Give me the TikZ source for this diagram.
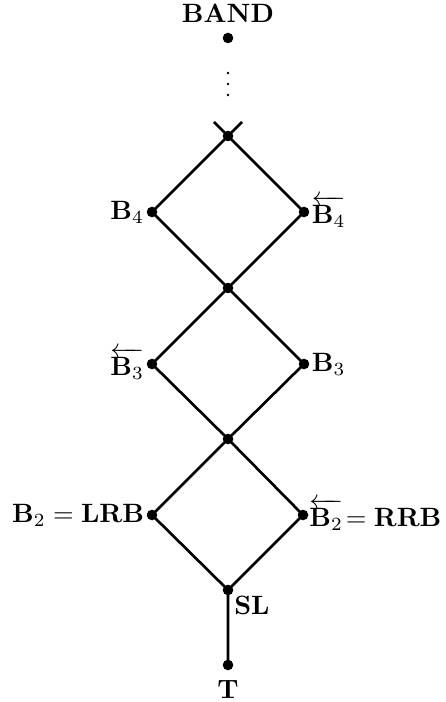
\documentclass[tikz,border=0pt]{standalone}
\usepackage{amsmath}
\begin{document}
\begin{tikzpicture}[x=0.377pt,y=-0.377pt,
  pt/.style={circle,fill=black,inner sep=0pt,minimum size=4pt},
  tinydot/.style={circle,fill=black,inner sep=0pt,minimum size=1.1pt},
  edge/.style={line width=1pt},
  lbl/.style={inner sep=0.6pt}]
\useasboundingbox (0,0) rectangle (445,702);
\node[pt,label={above:$\mathbf{BAND}$}] (band) at (228,38) {};
\node[tinydot] (v1) at (228,73) {};
\node[tinydot] (v2) at (228,84) {};
\node[tinydot] (v3) at (228,95) {};
\node[pt] (top) at (228,136) {};
\coordinate (xl) at (214,122);
\coordinate (xr) at (242,122);
\node[pt,label={[lbl]left:$\mathbf{B}_4$}] (b4) at (152,212) {};
\node[pt,label={[lbl]right:$\overleftarrow{\mathbf{B}_4}$}] (b4r) at (304,212) {};
\node[pt] (m1) at (228,288) {};
\node[pt,label={[lbl]left:$\overleftarrow{\mathbf{B}_3}$}] (b3r) at (152,364) {};
\node[pt,label={[lbl]right:$\mathbf{B}_3$}] (b3) at (304,364) {};
\node[pt] (m2) at (228,439) {};
\node[pt,label={[lbl]left:$\mathbf{B}_2 = \mathbf{LRB}$}] (b2) at (152,515) {};
\node[pt,label={[inner sep=0pt]right:$\overleftarrow{\mathbf{B}_2}\!=\mathbf{RRB}$}] (b2r) at (303,515) {};
\node[pt,label={[lbl]-45:$\mathbf{SL}$}] (sl) at (228,590) {};
\node[pt,label={below:$\mathbf{T}$}] (t) at (228,665) {};
\draw[edge] (xl.center) -- (top.center) -- (b4.center) -- (m1.center) -- (b3r.center) -- (m2.center) -- (b2.center) -- (sl.center) -- (t.center);
\draw[edge] (xr.center) -- (top.center) -- (b4r.center) -- (m1.center) -- (b3.center) -- (m2.center) -- (b2r.center) -- (sl.center);
\end{tikzpicture}
\end{document}
